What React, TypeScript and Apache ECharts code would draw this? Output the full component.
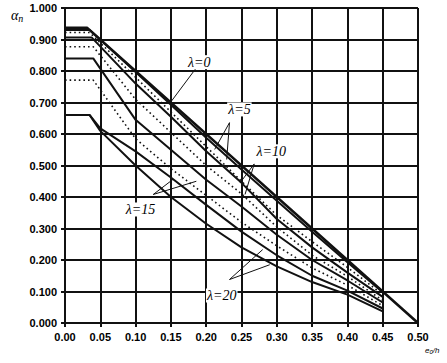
import React, { useEffect, useRef } from "react";
import * as echarts from "echarts";

// ---- data (e0/h, alpha_n) ----
const lambda0Solid: number[][] = [[0, 0.937], [0.0315, 0.937], [0.5, 0]];
const lambda5Solid: number[][] = [[0, 0.930], [0.035, 0.930], [0.10, 0.797], [0.15, 0.693], [0.20, 0.588], [0.25, 0.487], [0.30, 0.388], [0.35, 0.29], [0.40, 0.193], [0.45, 0.098]];
const lambda5Dotted: number[][] = [[0, 0.922], [0.035, 0.922], [0.10, 0.78], [0.15, 0.67], [0.20, 0.56], [0.25, 0.45], [0.30, 0.342], [0.35, 0.258], [0.40, 0.177], [0.45, 0.09]];
const lambda10Solid: number[][] = [[0, 0.906], [0.038, 0.906], [0.10, 0.76], [0.15, 0.655], [0.20, 0.545], [0.25, 0.445], [0.30, 0.33], [0.35, 0.24], [0.40, 0.16], [0.45, 0.083]];
const lambda10Dotted: number[][] = [[0, 0.877], [0.04, 0.877], [0.10, 0.71], [0.15, 0.605], [0.20, 0.50], [0.25, 0.41], [0.30, 0.305], [0.35, 0.215], [0.40, 0.148], [0.45, 0.072]];
const lambda15Solid: number[][] = [[0, 0.84], [0.04, 0.84], [0.10, 0.645], [0.15, 0.55], [0.20, 0.455], [0.25, 0.37], [0.30, 0.28], [0.35, 0.2], [0.40, 0.135], [0.45, 0.065]];
const lambda15Dotted: number[][] = [[0, 0.771], [0.04, 0.771], [0.10, 0.585], [0.15, 0.49], [0.20, 0.405], [0.25, 0.32], [0.30, 0.245], [0.35, 0.175], [0.40, 0.12], [0.45, 0.055]];
const lambda20SolidA: number[][] = [[0, 0.66], [0.035, 0.66], [0.05, 0.618], [0.10, 0.545], [0.15, 0.462], [0.20, 0.375], [0.25, 0.29], [0.30, 0.215], [0.35, 0.15], [0.40, 0.103], [0.45, 0.046]];
const lambda20SolidB: number[][] = [[0, 0.66], [0.035, 0.66], [0.05, 0.61], [0.10, 0.50], [0.15, 0.40], [0.20, 0.315], [0.25, 0.24], [0.30, 0.18], [0.35, 0.13], [0.40, 0.09], [0.45, 0.037]];

// annotation labels
const labelNames = ["λ=0", "λ=5", "λ=10", "λ=15", "λ=20"];
const labelPositions: number[][] = [[0.19, 0.828], [0.247, 0.678], [0.292, 0.545], [0.107, 0.36], [0.222, 0.087]];
// leader lines: [x1, y1, x2, y2]
const leaders: number[][] = [
  [0.186, 0.81, 0.151, 0.705],
  [0.233, 0.636, 0.212, 0.551],
  [0.233, 0.636, 0.229, 0.519],
  [0.268, 0.505, 0.255, 0.408],
  [0.268, 0.505, 0.248, 0.445],
  [0.125, 0.408, 0.153, 0.456],
  [0.125, 0.408, 0.186, 0.45],
  [0.233, 0.138, 0.28, 0.233],
  [0.233, 0.138, 0.29, 0.185],
];

const INK = "#111";

export default function App() {
  const ref = useRef<HTMLDivElement>(null);
  useEffect(() => {
    if (!ref.current) return;
    const chart = echarts.init(ref.current, undefined, { renderer: "svg" });
    const solid = (d: number[][], w = 2) => ({
      type: "line", data: d, symbol: "none", silent: true,
      lineStyle: { color: INK, width: w, type: "solid" }, z: 3,
    });
    const dotted = (d: number[][]) => ({
      type: "line", data: d, symbol: "none", silent: true,
      lineStyle: { color: INK, width: 1.6, type: [1.6, 3] }, z: 3,
    });
    const tickFont = { color: "#000", fontSize: 11, fontWeight: "bold" as const, fontFamily: "Liberation Sans, Arial" };
    chart.setOption({
      animation: false,
      grid: { left: 65, top: 8, width: 353, height: 315 },
      xAxis: {
        type: "value", min: 0, max: 0.5, interval: 0.05,
        axisLine: { lineStyle: { color: INK, width: 2 } },
        axisTick: { show: true, length: 4, lineStyle: { color: INK, width: 2 } },
        axisLabel: { ...tickFont, margin: 8, formatter: (v: number) => v.toFixed(2) },
        splitLine: { show: true, lineStyle: { color: INK, width: 2 } },
      },
      yAxis: {
        type: "value", min: 0, max: 1, interval: 0.1,
        axisLine: { show: true, lineStyle: { color: INK, width: 2 } },
        axisTick: { show: true, length: 4, lineStyle: { color: INK, width: 2 } },
        axisLabel: { ...tickFont, margin: 8, formatter: (v: number) => v.toFixed(3) },
        splitLine: { show: true, lineStyle: { color: INK, width: 2 } },
      },
      series: [
        solid(lambda0Solid, 2.6),
        solid(lambda5Solid),
        dotted(lambda5Dotted),
        solid(lambda10Solid),
        dotted(lambda10Dotted),
        solid(lambda15Solid),
        dotted(lambda15Dotted),
        solid(lambda20SolidA),
        solid(lambda20SolidB),
        {
          type: "line", data: [], symbol: "none", silent: true,
          markLine: {
            silent: true, symbol: ["none", "none"], label: { show: false },
            lineStyle: { color: INK, width: 1, type: "solid" },
            data: leaders.map((l) => [{ coord: [l[0], l[1]] }, { coord: [l[2], l[3]] }]),
          },
        },
      ],
    });
    const labelGraphics = labelPositions.map((p, i) => {
      const px = chart.convertToPixel({ gridIndex: 0 }, p) as number[];
      return {
        type: "text", x: px[0], y: px[1], z: 10,
        style: {
          text: labelNames[i], fill: "#000", align: "center", verticalAlign: "middle",
          font: "italic 14px 'Liberation Serif', 'Times New Roman', serif",
          backgroundColor: "#fff", padding: [0, 1],
        },
      };
    });
    chart.setOption({
      graphic: [
        ...labelGraphics,
        {
          type: "text", left: 11, top: 8,
          style: {
            text: "{a|α}{n|n}",
            rich: {
              a: { fontFamily: "Liberation Serif", fontStyle: "italic", fontSize: 14, fill: "#000" },
              n: { fontFamily: "Liberation Serif", fontStyle: "italic", fontSize: 10, fill: "#000", padding: [6, 0, 0, 0] },
            },
          },
        },
        {
          type: "text", left: 425, top: 346,
          style: {
            text: "{e|e}{s|0}{e|/h}",
            rich: {
              e: { fontFamily: "Liberation Sans", fontStyle: "italic", fontSize: 8, fill: "#000" },
              s: { fontFamily: "Liberation Sans", fontStyle: "italic", fontSize: 6, fill: "#000", padding: [4, 0, 0, 0] },
            },
          },
        },
      ],
    });
    return () => chart.dispose();
  }, []);
  return <div ref={ref} style={{ position: "fixed", left: 0, top: 0, width: 447, height: 363, background: "#fff" }} />;
}
